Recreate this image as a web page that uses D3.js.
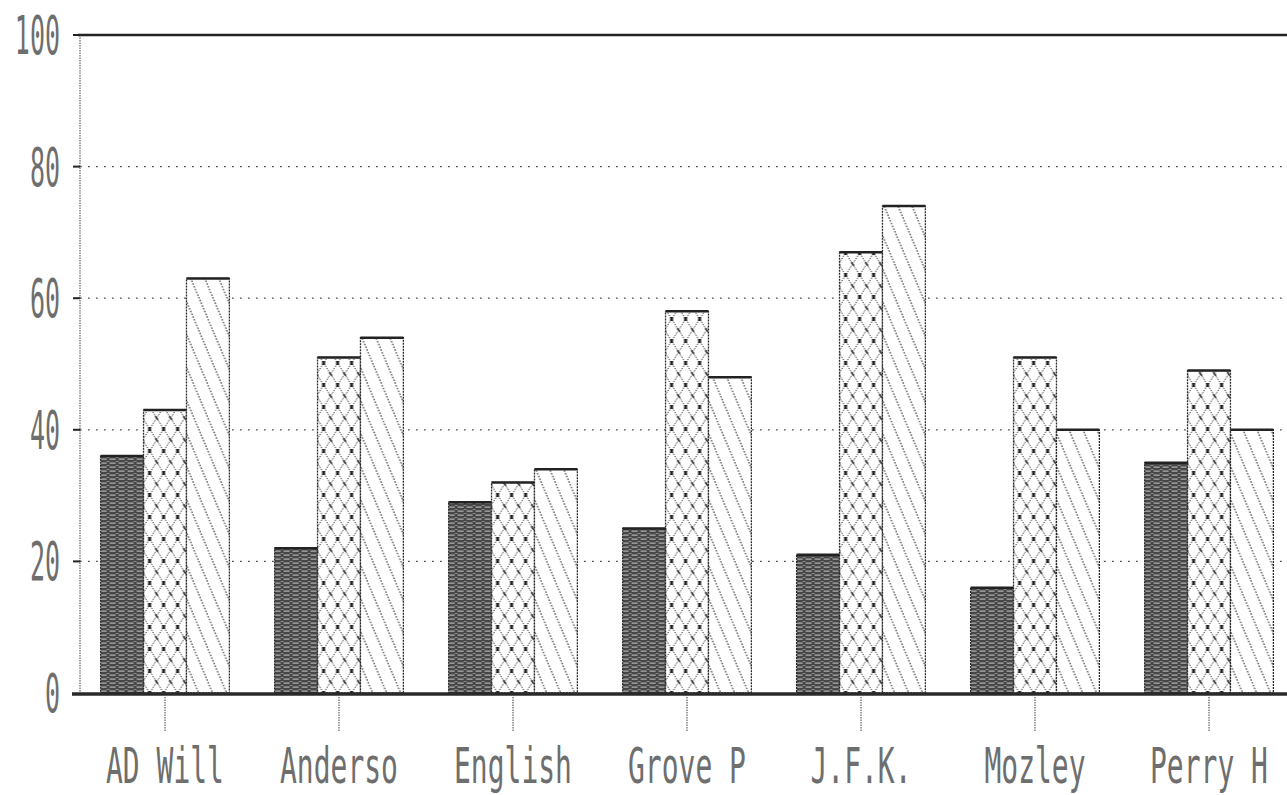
<!DOCTYPE html>
<html>
<head>
<meta charset="utf-8">
<script src="https://cdn.jsdelivr.net/npm/d3@7"></script>
<style>
  html, body { margin: 0; padding: 0; background: #fff; overflow: hidden; }
  svg { display: block; }
  .lbl { font-family: "DejaVu Sans Mono", "Liberation Mono", monospace; fill: #6e6e6e; }
</style>
</head>
<body>
<script>
const categories = ["AD Will", "Anderso", "English", "Grove P", "J.F.K.", "Mozley", "Perry H"];
const seriesNames = ["solid", "lattice", "diagonal"];
const solidValues = [36, 22, 29, 25, 21, 16, 35];
const latticeValues = [43, 51, 32, 58, 67, 51, 49];
const diagonalValues = [63, 54, 34, 48, 74, 40, 40];
const yTicks = [0, 20, 40, 60, 80, 100];

const W = 1287, H = 795;
const svg = d3.select("body").append("svg").attr("width", W).attr("height", H);
const defs = svg.append("defs");

// Patterns
const pSolid = defs.append("pattern").attr("id", "pSolid").attr("patternUnits", "userSpaceOnUse")
  .attr("width", 9).attr("height", 4);
pSolid.append("rect").attr("width", 9).attr("height", 4).attr("fill", "#474747");
pSolid.append("rect").attr("y", 2.6).attr("width", 6).attr("height", 1).attr("fill", "#c8c8c8");
pSolid.append("rect").attr("x", 6).attr("y", 1).attr("width", 3).attr("height", 0.8).attr("fill", "#9a9a9a");

const pLat = defs.append("pattern").attr("id", "pLat").attr("patternUnits", "userSpaceOnUse")
  .attr("width", 14).attr("height", 22);
pLat.append("rect").attr("width", 14).attr("height", 22).attr("fill", "#fff");
[[0,0,14,22],[14,0,0,22]].forEach(d => pLat.append("line")
  .attr("x1", d[0]).attr("y1", d[1]).attr("x2", d[2]).attr("y2", d[3])
  .attr("stroke", "#333").attr("stroke-width", 1).attr("stroke-dasharray", "1.5,1.2"));
pLat.append("rect").attr("x", 5.5).attr("y", 9).attr("width", 3).attr("height", 4).attr("fill", "#222");
pLat.append("rect").attr("x", 0).attr("y", 0).attr("width", 1.5).attr("height", 2).attr("fill", "#333");
pLat.append("rect").attr("x", 12.5).attr("y", 20).attr("width", 1.5).attr("height", 2).attr("fill", "#333");

const pDiag = defs.append("pattern").attr("id", "pDiag").attr("patternUnits", "userSpaceOnUse")
  .attr("width", 14).attr("height", 33);
pDiag.append("rect").attr("width", 14).attr("height", 33).attr("fill", "#fff");
[[-14,0,0,33],[0,0,14,33],[14,0,28,33]].forEach(d => pDiag.append("line")
  .attr("x1", d[0]).attr("y1", d[1]).attr("x2", d[2]).attr("y2", d[3])
  .attr("stroke", "#333").attr("stroke-width", 1.1).attr("stroke-dasharray", "1.6,1.4"));

const fills = { solid: "url(#pSolid)", lattice: "url(#pLat)", diagonal: "url(#pDiag)" };

// Scales
const x = d3.scaleBand().domain(categories).range([78, 1296]).paddingInner(0.26).paddingOuter(0.13);
const xs = d3.scaleBand().domain(seriesNames).range([0, x.bandwidth()]).padding(0);
const y = d3.scaleLinear().domain([0, 100]).range([693, 35]);

const data = categories.map((c, i) => ({
  cat: c,
  vals: [
    { s: "solid", v: solidValues[i] },
    { s: "lattice", v: latticeValues[i] },
    { s: "diagonal", v: diagonalValues[i] }
  ]
}));

// Gridlines
svg.append("g").selectAll("line").data(yTicks.filter(t => t > 0 && t < 100)).join("line")
  .attr("x1", 80).attr("x2", W).attr("y1", d => y(d)).attr("y2", d => y(d))
  .attr("stroke", "#555").attr("stroke-width", 1.2).attr("stroke-dasharray", "1.8,6.2");

// Top line
svg.append("line").attr("x1", 78).attr("x2", W).attr("y1", y(100)).attr("y2", y(100))
  .attr("stroke", "#222").attr("stroke-width", 2.5);

// Y axis (dotted vertical line)
svg.append("line").attr("x1", 80).attr("x2", 80).attr("y1", y(100)).attr("y2", y(0))
  .attr("stroke", "#444").attr("stroke-width", 1).attr("stroke-dasharray", "1.5,1");

// Y ticks marks
svg.append("g").selectAll("line").data(yTicks.filter(t => t > 0)).join("line")
  .attr("x1", 73).attr("x2", 80).attr("y1", d => y(d)).attr("y2", d => y(d))
  .attr("stroke", "#222").attr("stroke-width", 2);

// Y labels
svg.append("g").selectAll("text").data(yTicks).join("text")
  .attr("class", "lbl")
  .attr("text-anchor", "end")
  .attr("font-size", 25)
  .attr("transform", d => `translate(60,${y(d) + 19}) scale(1,2.1)`)
  .text(d => d);

// Bars
const groups = svg.append("g").selectAll("g").data(data).join("g")
  .attr("transform", d => `translate(${x(d.cat)},0)`);

groups.selectAll("rect").data(d => d.vals).join("rect")
  .attr("x", d => xs(d.s)).attr("width", xs.bandwidth())
  .attr("y", d => y(d.v)).attr("height", d => y(0) - y(d.v))
  .attr("fill", d => fills[d.s])
  .attr("stroke", "#2a2a2a").attr("stroke-width", 1.3).attr("stroke-dasharray", "2,1");

groups.selectAll("line.top").data(d => d.vals).join("line")
  .attr("class", "top")
  .attr("x1", d => xs(d.s)).attr("x2", d => xs(d.s) + xs.bandwidth())
  .attr("y1", d => y(d.v)).attr("y2", d => y(d.v))
  .attr("stroke", "#222").attr("stroke-width", 2.5);

// Baseline
svg.append("line").attr("x1", 72).attr("x2", W).attr("y1", y(0) + 1).attr("y2", y(0) + 1)
  .attr("stroke", "#2a2a2a").attr("stroke-width", 3.5);

// X ticks
svg.append("g").selectAll("line").data(categories).join("line")
  .attr("x1", d => x(d) + x.bandwidth() / 2).attr("x2", d => x(d) + x.bandwidth() / 2)
  .attr("y1", y(0) + 4).attr("y2", y(0) + 38)
  .attr("stroke", "#444").attr("stroke-width", 1).attr("stroke-dasharray", "1.5,1");

// X labels
svg.append("g").selectAll("text").data(categories).join("text")
  .attr("class", "lbl")
  .attr("text-anchor", "middle")
  .attr("font-size", 28)
  .attr("transform", d => `translate(${x(d) + x.bandwidth() / 2},783) scale(1,1.75)`)
  .text(d => d);
</script>
</body>
</html>
